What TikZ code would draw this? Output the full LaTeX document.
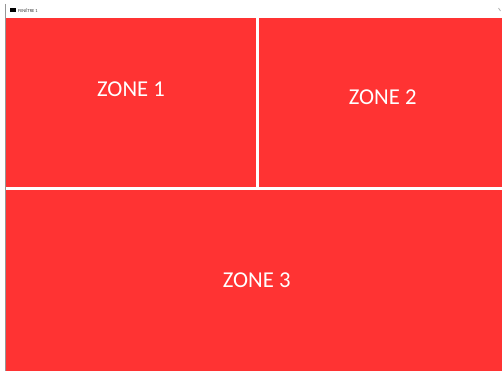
\documentclass[tikz,border=0pt]{standalone}
\usepackage{fontspec}
\setmainfont{Carlito}
\definecolor{zonered}{RGB}{255,51,51}
\definecolor{edgegray}{RGB}{150,150,150}
\begin{document}
\begin{tikzpicture}[x=1pt,y=-1pt,
  zone/.style={fill=zonered,draw=none},
  zonelabel/.style={text=white,font=\fontsize{22.7}{26}\selectfont,inner sep=0pt,anchor=center},
  titletext/.style={font=\fontsize{4.5}{5}\selectfont,text=black!80,inner sep=0pt,anchor=west}]
\useasboundingbox (0,0) rectangle (502,371);
\fill[white] (0,0) rectangle (502,371);
% window edge
\draw[edgegray,line width=1pt] (5.5,4) -- (5.5,371);
% title bar
\fill[black] (10,8.5) rectangle (16,12);
\node[titletext] (title) at (18,10.2) {FENÊTRE 1};
\draw[black!30,line width=0.8pt] (498.5,8) -- (500.5,11);
% zones
\fill[zone] (6,18) rectangle (256,187);
\fill[zone] (258.5,18) rectangle (502,187);
\fill[zone] (6,190) rectangle (502,371);
\node[zonelabel] (z1) at (131,89.5) {ZONE 1};
\node[zonelabel] (z2) at (382.7,97) {ZONE 2};
\node[zonelabel] (z3) at (256.7,280.7) {ZONE 3};
\end{tikzpicture}
\end{document}
